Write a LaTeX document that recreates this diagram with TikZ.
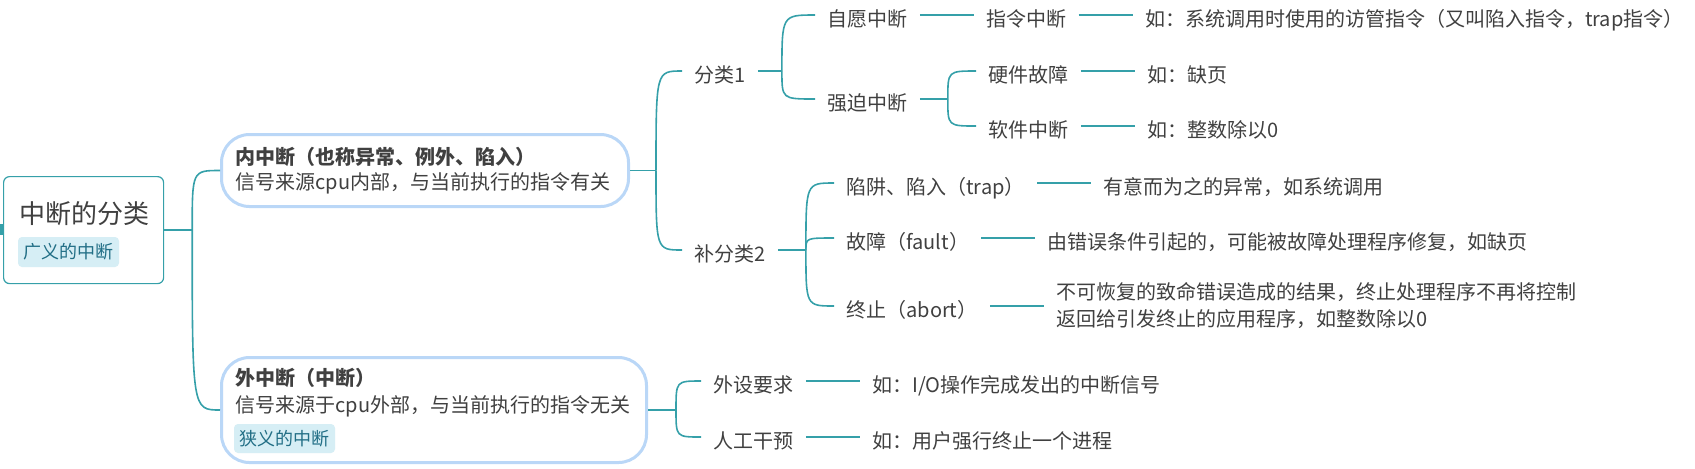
\documentclass[tikz,border=0pt]{standalone}
\usepackage{fontspec}
\setmainfont{Noto Sans CJK SC}
\usepackage{xcolor}
\usepackage{tikz}
\usetikzlibrary{positioning}

\definecolor{ink}{HTML}{404040}
\definecolor{linkcol}{HTML}{35A0A9}
\definecolor{boxline}{HTML}{BAD7F7}
\definecolor{tagfill}{HTML}{D6EEF5}
\definecolor{tagtext}{HTML}{226F86}

\tikzset{
  link/.style={draw=linkcol, line width=0.8pt},
  item/.style={inner xsep=6pt, inner ysep=0pt, text height=11pt, text depth=0pt,
    text=ink, font=\fontsize{10pt}{12pt}\selectfont},
  note/.style={inner xsep=6pt, inner ysep=0pt, text=ink, align=left,
    font=\fontsize{10pt}{13.5pt}\selectfont},
  catbox/.style={draw=boxline, line width=1.5pt, rounded corners=14pt, fill=white},
  rootbox/.style={draw=linkcol, line width=0.6pt, rounded corners=3pt, fill=white},
  tag/.style={fill=tagfill, rounded corners=2pt, inner sep=0pt, text=tagtext,
    font=\fontsize{9pt}{11pt}\selectfont},
  boxtext/.style={anchor=west, inner sep=0pt, text=ink, font=\fontsize{10pt}{12pt}\selectfont}
}

\begin{document}
\begin{tikzpicture}[x=0.5pt, y=-0.5pt]
  \useasboundingbox (0,0) rectangle (1695,468);
  \fill[linkcol] (0,224) rectangle (2.5,235);

  % root
  \node[rootbox, anchor=north west, minimum width=80pt, minimum height=53.5pt] (root) at (3,176) {};
  \node[anchor=west, inner sep=0pt, text=ink, font=\fontsize{13pt}{15pt}\selectfont] (roottitle) at (19,214) {中断的分类};
  \node[tag, minimum width=50.5pt, minimum height=15pt] (roottag) at (68.5,252) {广义的中断};

  % two main boxes
  \node[catbox, anchor=north west, minimum width=203.5pt, minimum height=36pt] (inner) at (220,133) {};
  \node[boxtext, font=\fontsize{10pt}{12pt}\selectfont\bfseries] (innerhead) at (235,157) {内中断（也称异常、例外、陷入）};
  \node[boxtext] (innerdesc) at (235,183) {信号来源cpu内部，与当前执行的指令有关};

  \node[catbox, anchor=north west, minimum width=212.5pt, minimum height=52.5pt] (outer) at (220,356) {};
  \node[boxtext, font=\fontsize{10pt}{12pt}\selectfont\bfseries] (outerhead) at (235,378) {外中断（中断）};
  \node[boxtext] (outerdesc) at (235,406) {信号来源于cpu外部，与当前执行的指令无关};
  \node[tag, minimum width=50.5pt, minimum height=14.5pt] (outertag) at (284.5,438.5) {狭义的中断};

  % second level
  \node[item, anchor=west] (cls1) at (682,71) {分类1};
  \node[item, anchor=west] (cls2) at (682,250) {补分类2};
  \node[item, anchor=west] (dev) at (701,381) {外设要求};
  \node[item, anchor=west] (man) at (701,437) {人工干预};

  % third level
  \node[item, anchor=west] (vol) at (815,15) {自愿中断};
  \node[item, anchor=west] (force) at (815,99) {强迫中断};
  \node[item, anchor=west] (hw) at (976,71) {硬件故障};
  \node[item, anchor=west] (sw) at (976,126) {软件中断};
  \node[item, anchor=west] (trap) at (834,183) {陷阱、陷入（trap）};
  \node[item, anchor=west] (fault) at (834,238) {故障（fault）};
  \node[item, anchor=west] (abort) at (834,306) {终止（abort）};

  % leaves
  \node[item, right=27pt of vol] (instr) {指令中断};
  \node[item, right=27pt of instr] (instrnote) {如：系统调用时使用的访管指令（又叫陷入指令，trap指令）};
  \node[item, right=27pt of hw] (hwnote) {如：缺页};
  \node[item, right=27pt of sw] (swnote) {如：整数除以0};
  \node[item, right=27pt of trap] (trapnote) {有意而为之的异常，如系统调用};
  \node[item, right=27pt of fault] (faultnote) {由错误条件引起的，可能被故障处理程序修复，如缺页};
  \node[note, right=27pt of abort] (abortnote) {不可恢复的致命错误造成的结果，终止处理程序不再将控制\\返回给引发终止的应用程序，如整数除以0};
  \node[item, right=27pt of dev] (devnote) {如：I/O操作完成发出的中断信号};
  \node[item, right=27pt of man] (mannote) {如：用户强行终止一个进程};

  % branch points
  \coordinate (b0) at ([xshift=14pt]root.east);
  \coordinate (b1) at ([xshift=13pt]inner.east);
  \coordinate (b2) at ([xshift=14pt]outer.east);
  \coordinate (b3) at ([xshift=12pt]cls1.east);
  \coordinate (b4) at ([xshift=14pt]force.east);
  \coordinate (b5) at ([xshift=14pt]cls2.east);

  % curved connectors
  \draw[link] (root.east) -- (b0);
  \draw[link] (inner.east) -- (b1);
  \draw[link] (outer.east) -- (b2);
  \draw[link] (cls1.east) -- (b3);
  \draw[link] (force.east) -- (b4);
  \draw[link] (cls2.east) -- (b5);
  \foreach \b/\c in {b0/inner, b0/outer, b1/cls1, b1/cls2, b2/dev, b2/man,
                     b3/vol, b3/force, b4/hw, b4/sw, b5/trap, b5/fault, b5/abort}
    \draw[link] (\b) .. controls (\b |- \c.west) .. (\c.west);

  % straight connectors
  \foreach \a/\c in {vol/instr, instr/instrnote, hw/hwnote, sw/swnote, trap/trapnote,
                     fault/faultnote, abort/abortnote, dev/devnote, man/mannote}
    \draw[link, line width=1pt] (\a.east) -- (\a.east -| \c.west);
\end{tikzpicture}
\end{document}
